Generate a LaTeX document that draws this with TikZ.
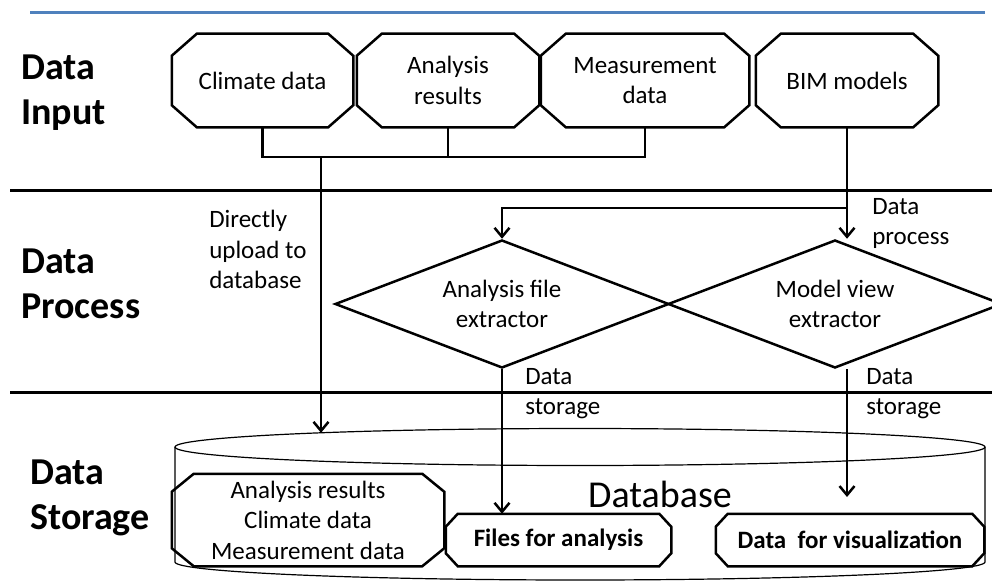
\documentclass[tikz,border=0pt]{standalone}
\usepackage{fontspec}
\setmainfont{Carlito}
\usetikzlibrary{arrows.meta,shapes.geometric}
\definecolor{rulebl}{HTML}{4F81BD}
\newcommand{\txtsz}{\fontsize{25}{30.5}\selectfont}
\newcommand{\bigsz}{\fontsize{38}{45}\selectfont\bfseries}
% octagon outline round a named node: #1 node, #2 x cut, #3 y cut
\newcommand{\chamf}[3]{%
  \draw ([xshift=#2]#1.north west) -- ([xshift=-#2]#1.north east)
    -- ([yshift=-#3]#1.north east) -- ([yshift=#3]#1.south east)
    -- ([xshift=-#2]#1.south east) -- ([xshift=#2]#1.south west)
    -- ([yshift=#3]#1.south west) -- ([yshift=-#3]#1.north west) -- cycle;}

\begin{document}
\begin{tikzpicture}[x=1pt,y=-1pt,>={Straight Barb[length=9pt,width=15pt]},
  line width=2.5pt,font=\txtsz,line cap=butt,
  inbox/.style={align=center,inner sep=0pt,minimum height=91pt},
  dbbox/.style={align=center,inner sep=0pt},
  extr/.style={diamond,draw,aspect=2.6,minimum width=334pt,minimum height=128pt,
    inner sep=0pt,align=center},
  stage/.style={anchor=north west,inner sep=0pt,align=left,font=\bigsz},
  note/.style={anchor=north west,inner sep=0pt,align=left}]
\useasboundingbox (0,0) rectangle (992,583);
\draw[rulebl,line width=3pt] (30,13) -- (985,13);
\draw[line width=3pt] (10,190) -- (992,190);
\draw[line width=3pt] (10,392) -- (992,392);
% stage titles
\node[stage] (tin) at (20,53.5) {Data\\Input};
\node[stage] (tproc) at (20,247.5) {Data\\Process};
\node[stage] (tstore) at (29,458.5) {Data\\Storage};
% input sources
\node[inbox,minimum width=179pt] (clim) at (262.5,80.5) {Climate data};
\node[inbox,minimum width=180pt] (anres) at (448,80.5) {Analysis\\results};
\node[inbox,minimum width=206pt] (meas) at (645,80.5) {Measurement\\data};
\node[inbox,minimum width=180pt] (bim) at (847,80.5) {BIM models};
\chamf{clim}{25pt}{22pt}
\chamf{anres}{25pt}{22pt}
\chamf{meas}{25pt}{22pt}
\chamf{bim}{25pt}{22pt}
\coordinate (join) at (321,157);
\draw (clim.south) |- (meas.south |- join) -- (meas.south);
\draw (anres.south) -- (anres.south |- join);
% database cylinder
\draw[line width=1.2pt] (580,447) ellipse [x radius=405pt,y radius=18.5pt];
\draw[line width=1.2pt] (175,447) -- (175,562)
  arc[start angle=180,end angle=360,x radius=405pt,y radius=18pt] -- (985,447);
\coordinate (dbin) at (321,432.8);
\node[anchor=base,inner sep=0pt,font=\fontsize{38}{45}\selectfont] (dblabel) at (660,507) {Database};
\node[dbbox,minimum width=270pt,minimum height=90pt] (stored) at (308,520)
  {Analysis results\\Climate data\\Measurement data};
\node[dbbox,font=\txtsz\bfseries,minimum width=223pt,minimum height=50pt] (files)
  at (558.5,540) {Files for analysis};
\node[dbbox,font=\txtsz\bfseries,minimum width=266pt,minimum height=50pt] (visdata)
  at (850,540) {Data\ \ for visualization};
\chamf{stored}{22pt}{18pt}
\chamf{files}{12pt}{13pt}
\chamf{visdata}{12pt}{13pt}
% extractors
\node[extr] (afe) at (502,304) {Analysis file\\extractor};
\node[extr] (mve) at (835,304) {Model view\\extractor};
\coordinate (split) at (847,208);
\coordinate (visin) at (847,497);
\draw[->] (join) -- (dbin);
\draw[->] (bim.south) -- (bim.south |- mve.north);
\draw[->] (split) -| (afe.north);
\draw[->] (afe.south) -- (afe.south |- files.north);
\draw[->] (mve.south -| split) -- (visin);
% labels
\node[note] (lupload) at (208,209) {Directly\\upload to\\database};
\node[note] (lproc) at (871,197) {Data\\process};
\node[note] (lstore1) at (524,367) {Data\\storage};
\node[note] (lstore2) at (865,367) {Data\\storage};
\end{tikzpicture}
\end{document}
